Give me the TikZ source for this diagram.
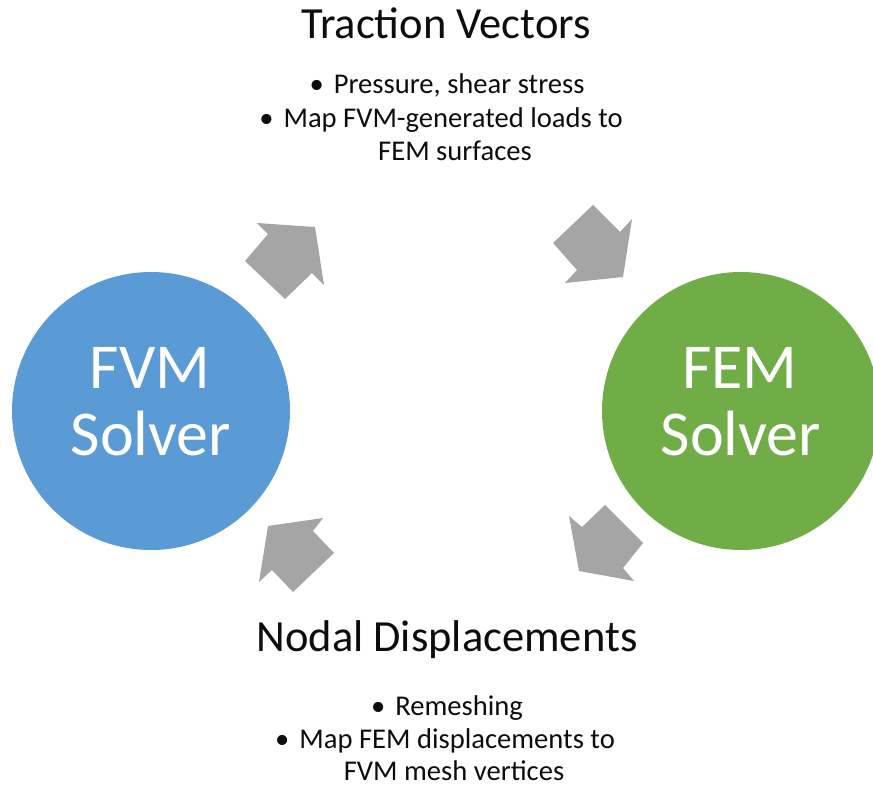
\documentclass[tikz,border=0pt]{standalone}
\usepackage{fontspec}
\setmainfont{Carlito}
\definecolor{fvmblue}{HTML}{5B9BD5}
\definecolor{femgreen}{HTML}{70AD47}
\definecolor{arrgray}{HTML}{A5A5A5}
\definecolor{txt}{HTML}{0D0D0D}
\begin{document}
\begin{tikzpicture}[x=1pt,y=-1pt,
  solver/.style={circle,minimum size=278pt,inner sep=0pt},
  solvertxt/.style={anchor=base,text=white,font=\fontsize{64}{64}\selectfont,inner sep=0pt},
  headtxt/.style={anchor=base,text=txt,font=\fontsize{44.5}{44.5}\selectfont,inner sep=0pt},
  bullettxt/.style={anchor=base,text=txt,font=\fontsize{28.6}{28.6}\selectfont,inner sep=0pt},
  blockarrow/.style={fill=arrgray,draw=none}]
\useasboundingbox (0,0) rectangle (873,790);
\clip (0,0) rectangle (873,790);
% circles
\node[solver,fill=fvmblue] (fvm) at (151,411) {};
\node[solver,fill=femgreen] (fem) at (741,411) {};
\node[solvertxt] (fvm1) at (150,388) {FVM};
\node[solvertxt] (fvm2) at (151,455) {Solver};
\node[solvertxt] (fem1) at (740,388) {FEM};
\node[solvertxt] (fem2) at (741,455) {Solver};
% block arrows
\fill[blockarrow] (315,227) -- (257,223) -- (268,234) -- (245,261) -- (285,299) -- (312,273) -- (324,285) -- cycle;
\fill[blockarrow] (623,277) -- (632,219) -- (620,232) -- (593,205) -- (553,243) -- (577,270) -- (565,283) -- cycle;
\fill[blockarrow] (579,571) -- (569,516) -- (582,527) -- (605,505) -- (643,543) -- (623,568) -- (634,581) -- cycle;
\fill[blockarrow] (268,526) -- (323,518) -- (313,531) -- (334,553) -- (293,592) -- (272,570) -- (259,582) -- cycle;
% top text
\node[headtxt] (trac) at (446,38) {Traction Vectors};
\node[bullettxt] (t1) at (447,93) {•\hspace{0.35em}Pressure, shear stress};
\node[bullettxt] (t2) at (441,127) {•\hspace{0.35em}Map FVM-generated loads to};
\node[bullettxt] (t3) at (455,160) {FEM surfaces};
% bottom text
\node[headtxt] (nodal) at (447,651) {Nodal Displacements};
\node[bullettxt] (b1) at (447,715) {•\hspace{0.35em}Remeshing};
\node[bullettxt] (b2) at (445,748) {•\hspace{0.35em}Map FEM displacements to};
\node[bullettxt] (b3) at (454,780) {FVM mesh vertices};
\end{tikzpicture}
\end{document}
